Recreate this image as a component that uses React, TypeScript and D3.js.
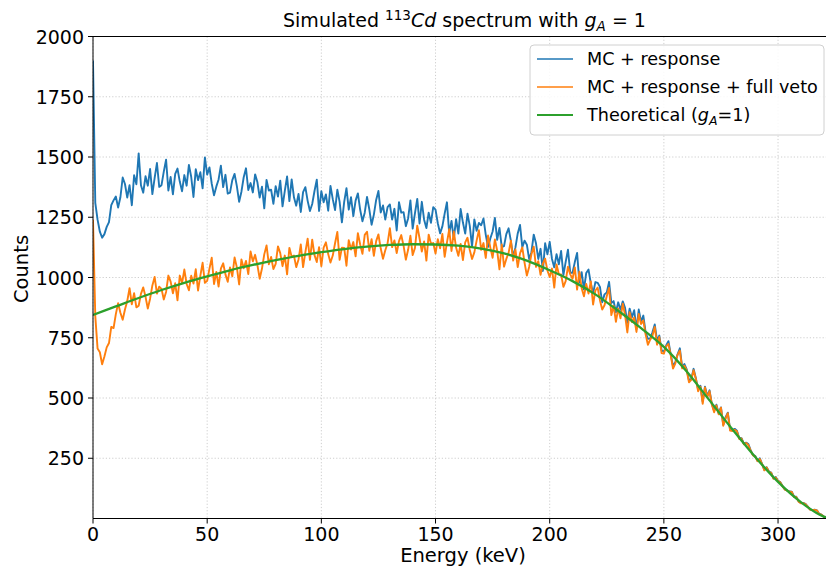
import React from "react";
import * as d3 from "d3";

// ---------------- DATA ----------------
const ENERGY_STEP_KEV = 1; // bin width; bin i sits at i * step keV

const blueCounts = [
  1900, 1310, 1240, 1190, 1165, 1180, 1210, 1230, 1300, 1320,
  1336, 1290, 1333, 1415, 1388, 1332, 1383, 1300, 1424, 1387,
  1515, 1383, 1352, 1420, 1381, 1450, 1346, 1413, 1475, 1376,
  1383, 1439, 1489, 1361, 1417, 1345, 1430, 1452, 1398, 1358,
  1425, 1381, 1467, 1418, 1334, 1449, 1404, 1437, 1370, 1498,
  1427, 1457, 1389, 1341, 1377, 1407, 1464, 1375, 1426, 1348,
  1352, 1404, 1430, 1379, 1314, 1356, 1416, 1453, 1363, 1392,
  1353, 1428, 1395, 1332, 1377, 1287, 1405, 1361, 1364, 1306,
  1379, 1336, 1402, 1295, 1359, 1419, 1317, 1407, 1333, 1298,
  1347, 1272, 1354, 1375, 1318, 1276, 1305, 1359, 1406, 1276,
  1358, 1312, 1345, 1277, 1380, 1325, 1280, 1364, 1314, 1229,
  1314, 1371, 1282, 1333, 1255, 1319, 1349, 1281, 1233, 1269,
  1334, 1283, 1219, 1261, 1322, 1359, 1270, 1299, 1240, 1292,
  1303, 1240, 1285, 1195, 1312, 1269, 1271, 1213, 1245, 1320,
  1203, 1267, 1326, 1224, 1314, 1240, 1205, 1269, 1227, 1292,
  1282, 1225, 1183, 1212, 1265, 1312, 1182, 1235, 1160, 1242,
  1182, 1284, 1228, 1182, 1265, 1214, 1128, 1241, 1194, 1226,
  1217, 1245, 1177, 1127, 1162, 1191, 1247, 1156, 1206, 1126,
  1130, 1180, 1204, 1152, 1085, 1125, 1183, 1218, 1126, 1153,
  1136, 1076, 1105, 1178, 1142, 1077, 1119, 1027, 1142, 1096,
  1148, 1077, 1042, 1097, 1055, 1110, 1010, 1065, 1115, 1020,
  1020, 1064, 1102, 979, 1022, 950, 1019, 1033, 976, 934,
  981, 978, 961, 897, 930, 938, 982, 894, 902, 856,
  897, 866, 901, 874, 812, 871, 835, 864, 786, 867,
  817, 842, 772, 746, 747, 773, 805, 739, 759, 698,
  692, 718, 736, 681, 632, 649, 681, 706, 628, 641,
  619, 573, 578, 621, 582, 535, 551, 485, 547, 508,
  532, 475, 447, 472, 437, 461, 389, 419, 439, 368,
  366, 372, 364, 333, 333, 311, 315, 309, 284, 263,
  260, 239, 250, 227, 202, 213, 195, 190, 166, 172,
  156, 151, 134, 121, 117, 112, 111, 91, 90, 71,
  64, 65, 61, 49, 38, 35, 37, 34, 20, 16,
  8, 3,
];

const orangeCounts = [
  1240, 840, 705, 690, 640, 672, 710, 728, 795, 790,
  848, 893, 854, 825, 867, 902, 956, 889, 935, 876,
  883, 932, 959, 920, 871, 912, 967, 1002, 933, 962,
  953, 909, 940, 1008, 983, 934, 976, 905, 1008, 977,
  1033, 973, 947, 1007, 975, 1034, 946, 1007, 1061, 978,
  986, 1037, 1082, 973, 1023, 962, 1037, 1059, 1013, 982,
  1042, 1005, 1083, 1042, 971, 1075, 1038, 1069, 1014, 1108,
  1067, 1094, 1051, 995, 1037, 1096, 1133, 1055, 1085, 1035,
  1057, 1129, 1101, 1047, 1091, 1013, 1123, 1086, 1091, 1043,
  1075, 1137, 1043, 1105, 1161, 1073, 1157, 1093, 1064, 1126,
  1047, 1124, 1146, 1097, 1062, 1091, 1142, 1189, 1073, 1124,
  1123, 1049, 1155, 1116, 1147, 1088, 1184, 1137, 1098, 1177,
  1190, 1111, 1159, 1090, 1151, 1179, 1120, 1078, 1113, 1142,
  1205, 1126, 1154, 1101, 1151, 1176, 1132, 1074, 1115, 1173,
  1093, 1123, 1215, 1163, 1108, 1150, 1070, 1178, 1140, 1143,
  1099, 1159, 1121, 1181, 1086, 1145, 1200, 1110, 1191, 1124,
  1090, 1139, 1072, 1146, 1165, 1114, 1077, 1104, 1153, 1196,
  1115, 1143, 1081, 1174, 1124, 1082, 1158, 1111, 1034, 1137,
  1045, 1077, 1102, 1153, 1070, 1116, 1043, 1100, 1125, 1061,
  1008, 1044, 1097, 1128, 1044, 1068, 1011, 1057, 1078, 1029,
  1002, 1037, 958, 1054, 1014, 1013, 961, 985, 1045, 1013,
  995, 1042, 950, 1024, 955, 922, 973, 933, 984, 888,
  946, 958, 906, 867, 885, 923, 957, 844, 882, 816,
  872, 831, 891, 844, 772, 856, 815, 834, 774, 849,
  807, 822, 764, 721, 742, 758, 795, 721, 753, 686,
  684, 714, 724, 678, 622, 643, 679, 697, 623, 634,
  614, 565, 575, 615, 580, 528, 547, 476, 544, 503,
  528, 473, 441, 469, 432, 460, 385, 413, 437, 365,
  363, 368, 362, 330, 332, 308, 313, 305, 282, 262,
  258, 238, 247, 226, 200, 212, 193, 189, 165, 170,
  155, 150, 133, 120, 116, 111, 110, 90, 89, 70,
  63, 64, 60, 49, 37, 35, 36, 34, 19, 16,
  8, 3,
];

const theoryEnergy = [0, 10, 20, 30, 40, 50, 60, 70, 80, 90, 100, 110, 120, 130, 140, 150, 160, 170, 180, 190, 200, 210, 220, 230, 240, 250, 260, 270, 280, 290, 300, 310, 320, 323];
const theoryCounts = [845, 880, 915, 948, 978, 1005, 1030, 1052, 1072, 1090, 1105, 1118, 1128, 1135, 1138, 1137, 1132, 1120, 1100, 1070, 1030, 985, 930, 862, 790, 712, 610, 490, 370, 255, 152, 68, 8, 0];

const xTicks = [0, 50, 100, 150, 200, 250, 300];
const yTicks = [250, 500, 750, 1000, 1250, 1500, 1750, 2000];
const seriesNames = ["MC + response", "MC + response + full veto"];

// ---------------- LAYOUT ----------------
const W = 826;
const H = 568;
const L = 93;
const R = 826;
const T = 36.5;
const B = 518.5;
const FONT = "DejaVu Sans, sans-serif";
const COLORS = ["#1f77b4", "#ff7f0e", "#2ca02c"];

export default function App() {
  const x = d3.scaleLinear().domain([0, 321]).range([L, R]);
  const y = d3.scaleLinear().domain([0, 2000]).range([B, T]);

  const histLine = d3
    .line<number>()
    .x((_, i) => x(i * ENERGY_STEP_KEV))
    .y((d) => y(d));

  const theoryLine = d3
    .line<number>()
    .x((_, i) => x(theoryEnergy[i]))
    .y((d) => y(d))
    .curve(d3.curveMonotoneX);

  const legX = 530;
  const legY = 45;
  const legRows = [59, 87, 115];
  const tickFont = 19;

  return (
    <div style={{ position: "fixed", left: 0, top: 0 }}>
      <svg width={W} height={H} style={{ display: "block", background: "#fff" }} fontFamily={FONT}>
        <defs>
          <clipPath id="plotClip">
            <rect x={L} y={T} width={R - L} height={B - T} />
          </clipPath>
        </defs>

        {/* grid */}
        {xTicks.map((t) => (
          <line key={"gx" + t} x1={x(t)} x2={x(t)} y1={T} y2={B} stroke="#c8c8c8" strokeWidth={0.9} strokeDasharray="1.2,2" />
        ))}
        {yTicks.map((t) => (
          <line key={"gy" + t} x1={L} x2={R} y1={y(t)} y2={y(t)} stroke="#c8c8c8" strokeWidth={0.9} strokeDasharray="1.2,2" />
        ))}

        {/* data */}
        <g clipPath="url(#plotClip)" fill="none" strokeLinejoin="round">
          <path d={histLine(blueCounts) || ""} stroke={COLORS[0]} strokeWidth={1.9} />
          <path d={histLine(orangeCounts) || ""} stroke={COLORS[1]} strokeWidth={1.9} />
          <path d={theoryLine(theoryCounts) || ""} stroke={COLORS[2]} strokeWidth={2.3} />
        </g>

        {/* spines */}
        <line x1={L} x2={L} y1={T} y2={B} stroke="#000" strokeWidth={1} />
        <line x1={L} x2={R} y1={B} y2={B} stroke="#000" strokeWidth={1} />
        <line x1={L} x2={R} y1={T} y2={T} stroke="#000" strokeWidth={1} />

        {/* x ticks */}
        {xTicks.map((t) => (
          <g key={"xt" + t}>
            <line x1={x(t)} x2={x(t)} y1={B} y2={B + 5} stroke="#000" strokeWidth={1} />
            <text x={x(t)} y={B + 22} fontSize={tickFont} textAnchor="middle" fill="#000">
              {t}
            </text>
          </g>
        ))}
        {/* y ticks */}
        {yTicks.map((t) => (
          <g key={"yt" + t}>
            <line x1={L - 5} x2={L} y1={y(t)} y2={y(t)} stroke="#000" strokeWidth={1} />
            <text x={L - 9} y={y(t) + 7} fontSize={tickFont} textAnchor="end" fill="#000">
              {t}
            </text>
          </g>
        ))}

        {/* axis labels */}
        <text x={463} y={562} fontSize={19.5} textAnchor="middle" fill="#000">
          Energy (keV)
        </text>
        <text transform={`translate(28, ${269}) rotate(-90)`} fontSize={19.5} textAnchor="middle" fill="#000">
          Counts
        </text>

        {/* title */}
        <text x={464.5} y={27} fontSize={19} textAnchor="middle" fill="#000">
          Simulated{" "}
          <tspan dy={-7.5} fontSize={13.5}>113</tspan>
          <tspan dy={7.5} fontStyle="italic">Cd</tspan>
          <tspan> spectrum with </tspan>
          <tspan fontStyle="italic">g</tspan>
          <tspan dy={4} fontSize={13.5} fontStyle="italic">A</tspan>
          <tspan dy={-4}> = 1</tspan>
        </text>

        {/* legend */}
        <rect x={legX} y={legY} width={294} height={90} rx={4} fill="#fff" fillOpacity={0.85} stroke="#d0d0d0" strokeWidth={1} />
        {seriesNames.map((name, i) => (
          <g key={name}>
            <line x1={537} x2={573} y1={legRows[i]} y2={legRows[i]} stroke={COLORS[i]} strokeWidth={1.7} />
            <text x={587} y={legRows[i] + 6} fontSize={17.6} fill="#000">
              {name}
            </text>
          </g>
        ))}
        <line x1={537} x2={573} y1={legRows[2]} y2={legRows[2]} stroke={COLORS[2]} strokeWidth={2.2} />
        <text x={587} y={legRows[2] + 6} fontSize={17.6} fill="#000">
          Theoretical (<tspan fontStyle="italic">g</tspan>
          <tspan dy={4} fontSize={12.5} fontStyle="italic">A</tspan>
          <tspan dy={-4}>=1)</tspan>
        </text>
      </svg>
    </div>
  );
}
